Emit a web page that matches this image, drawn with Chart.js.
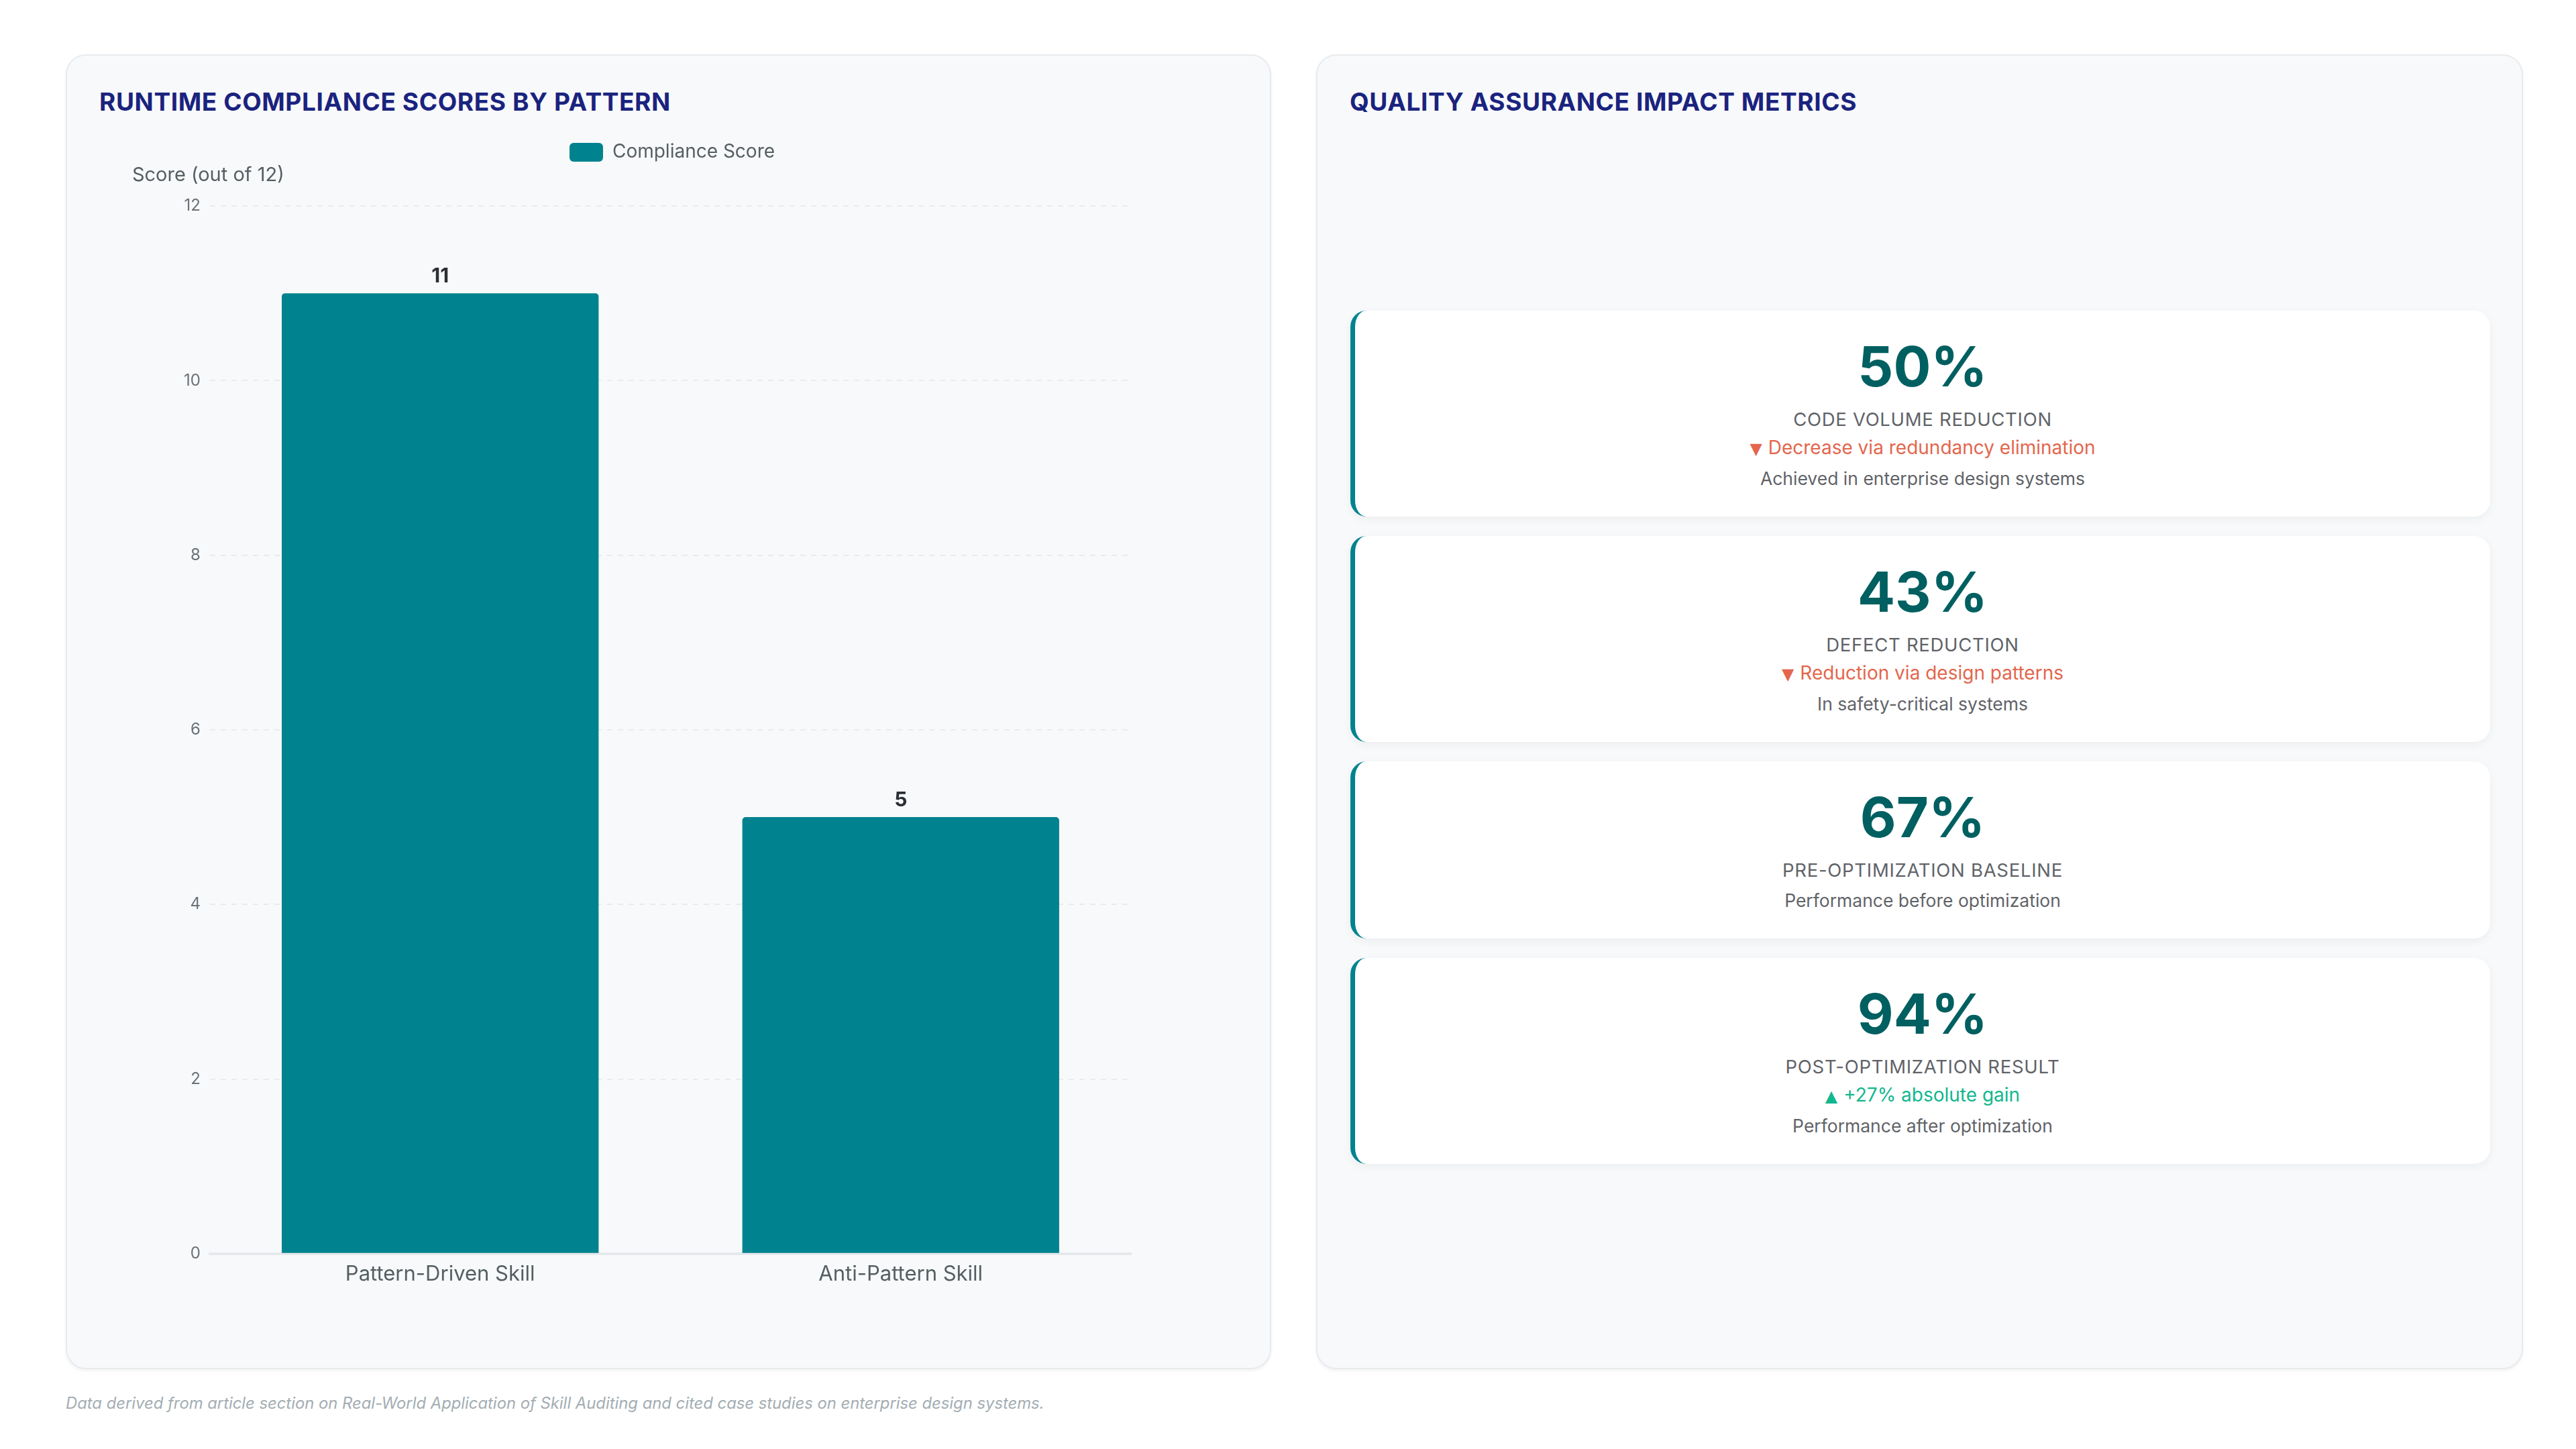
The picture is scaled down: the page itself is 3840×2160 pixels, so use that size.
<!DOCTYPE html>
<html>
<head>
<meta charset="utf-8">
<script src="https://cdn.jsdelivr.net/npm/chart.js@4.4.1/dist/chart.umd.min.js"></script>
<style>
  html, body { margin: 0; padding: 0; background: #ffffff; }
  body { width: 3840px; height: 2160px; position: relative; font-family: Inter, "Noto Sans", sans-serif; overflow: hidden; }
  .panel {
    position: absolute; top: 81px; height: 1960px; box-sizing: border-box;
    background: #f8f9fb; border: 2px solid #e8ebee; border-radius: 30px;
    box-shadow: 0 3px 4px rgba(0,0,0,0.05);
  }
  #left { left: 98px; width: 1797px; }
  #right { left: 1962px; width: 1799px; }
  .ptitle {
    position: absolute; left: 48px; top: 46px; margin: 0;
    font-size: 37px; line-height: 46px; font-weight: 700; color: #1a237e; letter-spacing: 0.6px;
  }
  #chartBox { position: absolute; left: 48px; top: 118px; width: 1708px; height: 1721px; }
  #cards { position: absolute; left: 49px; right: 47px; top: 380px; display: flex; flex-direction: column; gap: 29px; }
  .card {
    background: #ffffff; border-left: 7px solid #00838f; border-radius: 24px;
    box-shadow: 0 4px 14px rgba(0,0,0,0.05);
    padding: 36px 20px 42px; text-align: center;
  }
  .num { font-size: 83px; line-height: 94px; font-weight: 700; color: #005f60; }
  .lbl { margin-top: 15px; font-size: 27.5px; line-height: 34px; color: #5f6368; letter-spacing: 0.7px; }
  .chg { margin-top: 10px; font-size: 28px; line-height: 31px; }
  .chg .tri { font-size: 0.85em; font-family: "DejaVu Sans", sans-serif; margin-right: 9px; }
  .chg.down { color: #e3664d; }
  .chg.up { color: #12b78e; }
  .note { margin-top: 13px; font-size: 26.5px; line-height: 30px; color: #5f6368; }
  #foot {
    position: absolute; left: 98px; top: 2077px; font-size: 23.8px; line-height: 30px;
    font-style: italic; color: #a3adb3;
  }
</style>
</head>
<body>
<div class="panel" id="left">
  <h2 class="ptitle">RUNTIME COMPLIANCE SCORES BY PATTERN</h2>
  <div id="chartBox"><canvas id="Chart"></canvas></div>
</div>
<div class="panel" id="right">
  <h2 class="ptitle">QUALITY ASSURANCE IMPACT METRICS</h2>
  <div id="cards"></div>
</div>
<div id="foot">Data derived from article section on Real-World Application of Skill Auditing and cited case studies on enterprise design systems.</div>

<script>
const categories = ["Pattern-Driven Skill", "Anti-Pattern Skill"];
const scores = [11, 5];
const seriesLabel = "Compliance Score";
const yTitle = "Score (out of 12)";
const yMax = 12;
const yStep = 2;

const metricValues = ["50%", "43%", "67%", "94%"];
const metricLabels = ["CODE VOLUME REDUCTION", "DEFECT REDUCTION", "PRE-OPTIMIZATION BASELINE", "POST-OPTIMIZATION RESULT"];
const metricArrows = ["▼", "▼", "", "▲"];
const metricChanges = ["Decrease via redundancy elimination", "Reduction via design patterns", "", "+27% absolute gain"];
const metricNotes = ["Achieved in enterprise design systems", "In safety-critical systems", "Performance before optimization", "Performance after optimization"];

// metric cards
const cards = document.getElementById("cards");
metricValues.forEach((v, i) => {
  const card = document.createElement("div");
  card.className = "card";
  let html = '<div class="num">' + v + '</div><div class="lbl">' + metricLabels[i] + '</div>';
  if (metricChanges[i]) {
    const dir = metricArrows[i] === "▲" ? "up" : "down";
    html += '<div class="chg ' + dir + '"><span class="tri">' + metricArrows[i] + '</span>' + metricChanges[i] + '</div>';
  }
  html += '<div class="note">' + metricNotes[i] + '</div>';
  card.innerHTML = html;
  cards.appendChild(card);
});

Chart.defaults.font.family = "Inter, 'Noto Sans', sans-serif";

// room under the legend for the axis title, and keep legend centred on the canvas
const legendGap = {
  id: "legendGap",
  beforeInit(chart) {
    const fit = chart.legend.fit;
    chart.legend.fit = function () {
      fit.bind(chart.legend)();
      this.height += 56;
    };
  },
  afterLayout(chart) {
    chart.legend.left = 0;
    chart.legend.right = chart.width;
  },
};

// horizontal y axis title + value labels on bars
const extras = {
  id: "extras",
  afterDatasetsDraw(chart) {
    const { ctx, chartArea } = chart;
    ctx.save();
    ctx.font = "29px Inter";
    ctx.fillStyle = "#555f61";
    ctx.textAlign = "left";
    ctx.textBaseline = "middle";
    ctx.fillText(yTitle, chartArea.left - 116, chartArea.top - 46);

    ctx.font = "bold 30px Inter";
    ctx.fillStyle = "#2b2f33";
    ctx.textAlign = "center";
    ctx.textBaseline = "bottom";
    chart.getDatasetMeta(0).data.forEach((bar, i) => {
      ctx.fillText(String(scores[i]), bar.x, bar.y - 10);
    });
    ctx.restore();
  },
};

new Chart(document.getElementById("Chart"), {
  type: "bar",
  data: {
    labels: categories,
    datasets: [
      {
        label: seriesLabel,
        data: scores,
        backgroundColor: "#00838f",
        borderRadius: 5,
        barPercentage: 0.86,
        categoryPercentage: 0.8,
      },
    ],
  },
  options: {
    responsive: true,
    maintainAspectRatio: false,
    animation: false,
    layout: { padding: { left: 112, right: 170, top: 0, bottom: 0 } },
    plugins: {
      legend: {
        position: "top",
        labels: {
          boxWidth: 50,
          boxHeight: 28,
          useBorderRadius: true,
          borderRadius: 6,
          color: "#555f61",
          font: { size: 28 },
          padding: 12,
        },
      },
      tooltip: { enabled: false },
    },
    scales: {
      x: {
        grid: { display: false },
        border: { display: true, color: "#e6e9ec", width: 4 },
        ticks: { color: "#555f61", font: { size: 31 }, padding: 4 },
      },
      y: {
        min: 0,
        max: yMax,
        ticks: { stepSize: yStep, color: "#6b7378", font: { size: 24 }, padding: 14 },
        grid: { color: "#e9ecef", lineWidth: 2, drawTicks: false },
        border: { display: false, dash: [8, 8] },
      },
    },
  },
  plugins: [legendGap, extras],
});
</script>
</body>
</html>
